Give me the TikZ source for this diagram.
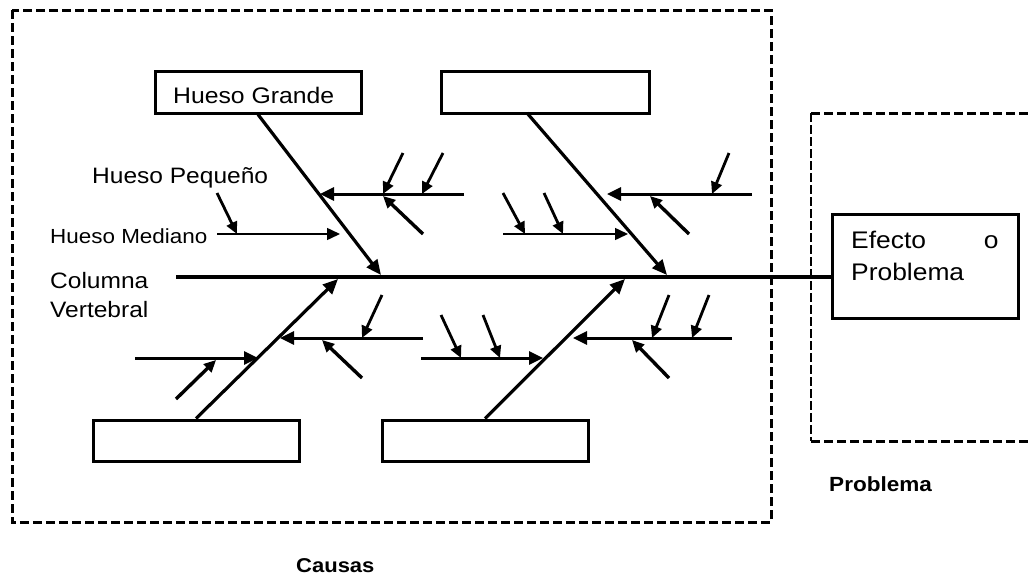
\documentclass[tikz,border=0pt]{standalone}
\usepackage{fontspec}
\setmainfont{Liberation Sans}
\usepackage{graphicx}
\usetikzlibrary{arrows.meta}
\newcommand{\wt}[1]{\scalebox{1.1}[1]{#1}}
\newcommand{\fsz}[1]{\fontsize{#1}{#1}\selectfont}
\begin{document}
\begin{tikzpicture}[x=1pt,y=-1pt,
  bone/.style={line width=3.2pt, -{Triangle[length=15pt,width=13pt]}},
  midbone/.style={line width=3pt, -{Triangle[length=14pt,width=13pt]}},
  thinbone/.style={line width=1.5pt, -{Triangle[length=13pt,width=12pt]}},
  twig/.style={line width=2.8pt, -{Triangle[length=12pt,width=11pt]}},
  catbox/.style={draw, line width=3pt, inner sep=0pt, minimum width=206pt, minimum height=42pt},
  frame/.style={line width=3pt, dash pattern=on 9pt off 4pt},
  lbl/.style={inner sep=0pt, anchor=base west}
]
\fill[white] (0,0) rectangle (1031,576);
\useasboundingbox (0,0) rectangle (1031,576);

% frames
\draw[frame] (12,10) rectangle (771,522);
\draw[frame] (811,113) -- (1031,113);
\draw[frame] (811,441) -- (1031,441);
\draw[line width=1.3pt, dash pattern=on 9pt off 3pt] (811,113) -- (811,441);

% category boxes
\node[catbox] (box1) at (258,92) {};
\node[lbl] (hg) at (173,103) {\fsz{22.5}\wt{Hueso Grande}};
\node[catbox, minimum width=208pt] (box2) at (545,92) {};
\node[catbox, minimum height=41pt] (box3) at (196,440.5) {};
\node[catbox, minimum height=41pt] (box4) at (485,440.5) {};
\node[draw, line width=3pt, inner sep=0pt, minimum width=186pt, minimum height=104pt] (efecto) at (925,266) {};
\node[lbl] (eftext) at (851,248) {\fsz{24}\wt{\parbox[t]{134pt}{\baselineskip=32pt Efecto\hfill o\\Problema}}};

% labels
\node[lbl] (hp) at (92,183) {\fsz{22.3}\wt{Hueso Pequeño}};
\node[lbl] (hm) at (50,243) {\fsz{20.4}\wt{Hueso Mediano}};
\node[lbl] (cv) at (50,288) {\fsz{22.3}\wt{\parbox[t]{100pt}{\baselineskip=29pt Columna\\Vertebral}}};
\node[lbl] (prob) at (829,491) {\fsz{20.5}\wt{\bfseries Problema}};
\node[lbl] (caus) at (296,572) {\fsz{20}\wt{\bfseries Causas}};

% spine
\coordinate (spineL) at (176,277);
\draw[line width=3.5pt] (spineL) -- (spineL -| efecto.west);

% main bones
\coordinate (b1t) at (381,275);
\coordinate (b2s) at (527,113);
\coordinate (b2t) at (667,275);
\coordinate (b3t) at (338,279);
\coordinate (b4t) at (625,279);
\draw[bone] (box1.south) -- (b1t);
\draw[bone] (b2s) -- (b2t);
\draw[bone] (box3.north) -- (b3t);
\draw[bone] (box4.north) -- (b4t);

% medium bones
\coordinate (m1s) at (464,194); \coordinate (m1t) at (320,194);
\coordinate (m2s) at (217,234); \coordinate (m2t) at (340,234);
\coordinate (m3s) at (503,234); \coordinate (m3t) at (628,234);
\coordinate (m4s) at (752,194); \coordinate (m4t) at (607,194);
\coordinate (m5s) at (423,338); \coordinate (m5t) at (280,338);
\coordinate (m6s) at (135,358); \coordinate (m6t) at (258,358);
\coordinate (m7s) at (421,358); \coordinate (m7t) at (543,358);
\coordinate (m8s) at (732,338); \coordinate (m8t) at (573,338);
\draw[midbone] (m1s) -- (m1t);
\draw[thinbone] (m2s) -- (m2t);
\draw[thinbone] (m3s) -- (m3t);
\draw[midbone] (m4s) -- (m4t);
\draw[midbone] (m5s) -- (m5t);
\draw[midbone] (m6s) -- (m6t);
\draw[midbone] (m7s) -- (m7t);
\draw[midbone] (m8s) -- (m8t);

% small bones
\coordinate (s1s) at (403,153);  \coordinate (s1t) at (383,194);
\coordinate (s2s) at (443,153);  \coordinate (s2t) at (422,194);
\coordinate (s3s) at (423,234);  \coordinate (s3t) at (383,196);
\coordinate (s4s) at (217,193);  \coordinate (s4t) at (237,234);
\coordinate (s5s) at (503,193);  \coordinate (s5t) at (525,234);
\coordinate (s6s) at (544,193);  \coordinate (s6t) at (563,234);
\coordinate (s7s) at (729,153);  \coordinate (s7t) at (712,194);
\coordinate (s8s) at (689,234);  \coordinate (s8t) at (650,196);
\coordinate (s9s) at (382,295);  \coordinate (s9t) at (362,338);
\coordinate (s10s) at (362,378); \coordinate (s10t) at (322,340);
\coordinate (s11s) at (176,399); \coordinate (s11t) at (216,360);
\coordinate (s12s) at (441,315); \coordinate (s12t) at (461,358);
\coordinate (s13s) at (483,315); \coordinate (s13t) at (500,358);
\coordinate (s14s) at (669,295); \coordinate (s14t) at (652,338);
\coordinate (s15s) at (709,295); \coordinate (s15t) at (692,338);
\coordinate (s16s) at (669,378); \coordinate (s16t) at (632,340);
\foreach \i in {1,2,4,5,6,7,9,12,13,14,15}{\draw[twig] (s\i s) -- (s\i t);}
\foreach \i in {3,8,10,11,16}{\draw[twig, line width=3.4pt] (s\i s) -- (s\i t);}
\end{tikzpicture}
\end{document}
